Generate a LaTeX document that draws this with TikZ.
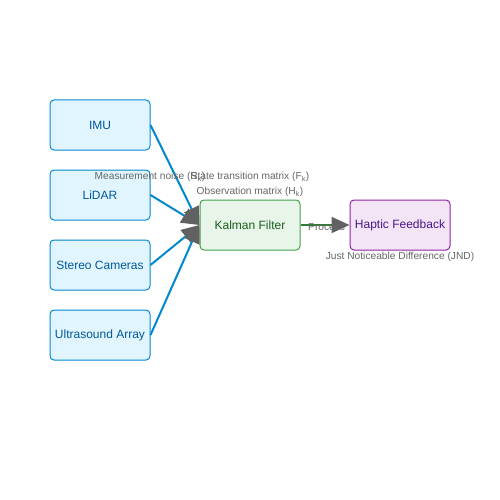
\documentclass[tikz,border=0pt]{standalone}
\usepackage{fontspec}
\setmainfont{Liberation Sans}
\usetikzlibrary{arrows.meta}
\definecolor{sensorfill}{HTML}{E1F5FE}
\definecolor{sensordraw}{HTML}{0288D1}
\definecolor{sensortext}{HTML}{01579B}
\definecolor{filterfill}{HTML}{E8F5E9}
\definecolor{filterdraw}{HTML}{43A047}
\definecolor{filtertext}{HTML}{1B5E20}
\definecolor{hapticfill}{HTML}{F3E5F5}
\definecolor{hapticdraw}{HTML}{8E24AA}
\definecolor{haptictext}{HTML}{4A148C}
\definecolor{labeltext}{HTML}{666666}
\definecolor{tipgray}{HTML}{616161}
\definecolor{linkgreen}{HTML}{2E7D32}
\tikzset{
  box/.style = {rounded corners=4pt, line width=1pt, minimum width=100pt, minimum height=50pt, inner sep=0pt, font=\fontsize{12}{14}\selectfont},
  sensor/.style = {box, draw=sensordraw, fill=sensorfill, text=sensortext},
  filter/.style = {box, draw=filterdraw, fill=filterfill, text=filtertext},
  haptic/.style = {box, draw=hapticdraw, fill=hapticfill, text=haptictext},
  lbl/.style = {text=labeltext, inner sep=0pt, font=\fontsize{10.2}{12}\selectfont},
  feed/.style = {line width=2pt, -{Triangle[length=18pt, width=16pt, color=tipgray]}}
}
\begin{document}
\begin{tikzpicture}[x=1pt, y=-1pt]
    \useasboundingbox (0,0) rectangle (500,500);
    % Sensori
    \node[sensor] (imu) at (100,125) {IMU};
    \node[sensor] (lidar) at (100,195) {LiDAR};
    \node[sensor] (stereo) at (100,265) {Stereo Cameras};
    \node[sensor] (ultra) at (100,335) {Ultrasound Array};
    % Filtro e feedback
    \node[filter] (kalman) at (250,225) {Kalman Filter};
    \node[haptic] (feedback) at (400,225) {Haptic Feedback};
    % Collegamenti
    \foreach \s in {imu, lidar, stereo, ultra}
        \draw[feed, sensordraw] (\s.east) -- (kalman.west);
    \draw[feed, linkgreen] (kalman.east) -- (feedback.west);
    % Etichette
    \node[lbl] (noise) at (150,177) {Measurement noise (R\textsubscript{k})};
    \node[lbl] (trans) at (250,177) {State transition matrix (F\textsubscript{k})};
    \node[lbl] (obs) at (250,192) {Observation matrix (H\textsubscript{k})};
    \node[lbl, anchor=west] (proc) at (308,227) {Process};
    \node[lbl] (jnd) at (400,257) {Just Noticeable Difference (JND)};
\end{tikzpicture}
\end{document}
